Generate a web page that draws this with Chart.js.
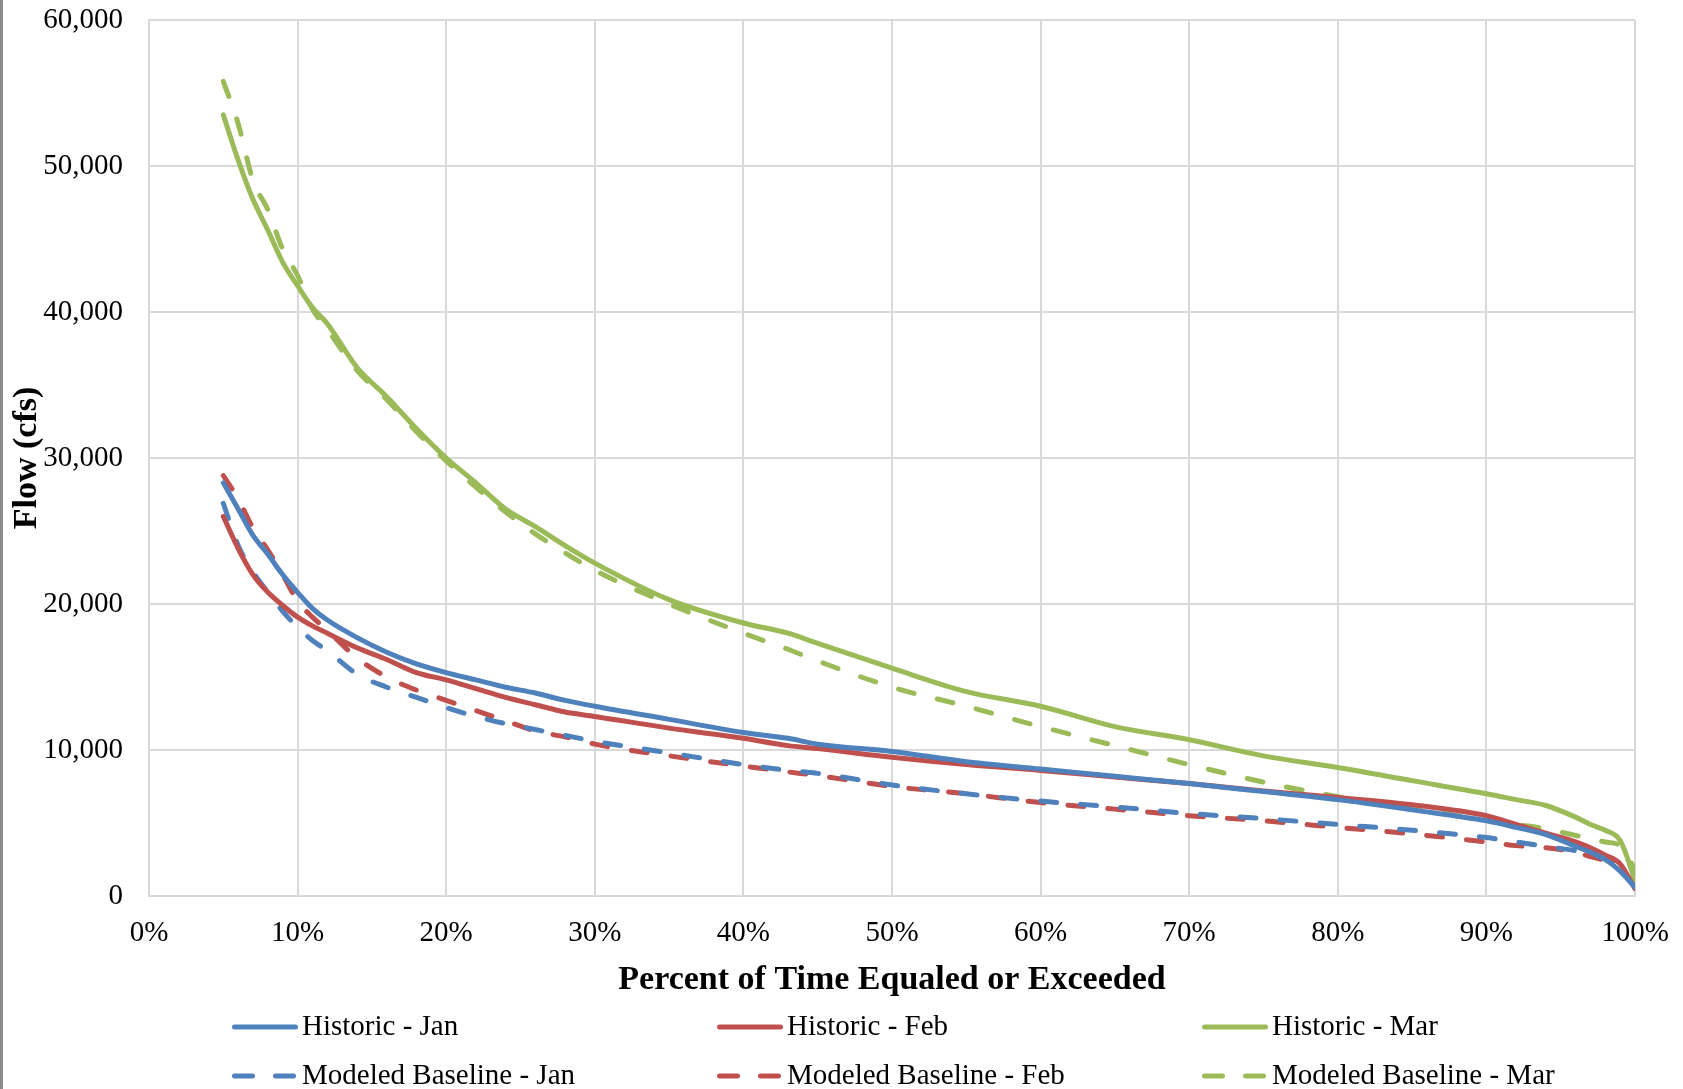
<!DOCTYPE html>
<html>
<head>
<meta charset="utf-8">
<script src="https://cdn.jsdelivr.net/npm/chart.js@4.4.1/dist/chart.umd.min.js"></script>
<style>
  html, body { margin: 0; padding: 0; background: #fff; }
  #wrap { position: relative; width: 1683px; height: 1089px; }
  #edge { position: absolute; left: 0; top: 0; width: 3px; height: 1089px; background: #8c8c8c; }
</style>
</head>
<body>
<div id="wrap">
  <canvas id="flowChart" width="1683" height="1089"></canvas>
  <div id="edge"></div>
</div>
<script>
// percent of time equaled or exceeded
const pct = [5, 6, 7, 8, 9, 10, 11, 12, 14, 16, 18, 20, 22, 24, 26, 28, 30, 35, 40, 43, 45,
  50, 55, 60, 65, 70, 75, 80, 85, 90, 92, 94, 96, 97, 98, 99, 100];

const historicJan = [28300, 26500, 24700, 23400, 22000, 20800, 19700, 18900, 17700, 16700, 15900,
  15300, 14800, 14300, 13900, 13400, 13000, 12100, 11200, 10800, 10400,
  9900, 9200, 8700, 8200, 7700, 7150, 6600, 5900, 5150, 4700, 4200, 3400, 3000, 2500, 1700, 600];
const historicFeb = [26000, 23800, 22000, 20800, 19900, 19100, 18500, 18000, 17000, 16200, 15300,
  14800, 14200, 13600, 13100, 12600, 12300, 11500, 10800, 10300, 10100,
  9500, 9000, 8600, 8150, 7700, 7200, 6750, 6250, 5500, 4900, 4300, 3700, 3300, 2800, 2200, 500];
const historicMar = [53500, 50400, 47700, 45600, 43400, 41800, 40300, 39200, 36200, 34200, 32000,
  30000, 28300, 26500, 25300, 24000, 22800, 20300, 18700, 18000, 17300,
  15600, 14000, 13000, 11600, 10700, 9600, 8800, 7900, 7000, 6600, 6200, 5400, 4900, 4500, 3800, 1100];
const modeledJan = [26900, 24000, 22200, 20800, 19500, 18400, 17500, 16800, 15200, 14300, 13600,
  12900, 12300, 11800, 11400, 11000, 10600, 9800, 9000, 8600, 8400,
  7600, 7000, 6500, 6100, 5650, 5300, 4900, 4500, 4000, 3700, 3400, 3100, 2900, 2500, 2000, 800];
const modeledFeb = [28800, 27200, 25200, 23700, 22000, 20200, 19100, 18200, 16300, 15000, 14100,
  13400, 12700, 12000, 11300, 10900, 10400, 9600, 8900, 8500, 8250,
  7500, 7000, 6400, 5950, 5500, 5150, 4700, 4250, 3700, 3450, 3300, 3000, 2700, 2400, 1800, 600];
const modeledMar = [55800, 52900, 49000, 47000, 44300, 42500, 40200, 38800, 36000, 34000, 31800,
  29800, 28000, 26300, 24800, 23500, 22300, 20000, 18000, 16900, 16100,
  14300, 13000, 11600, 10300, 9000, 7800, 6800, 6000, 5200, 4900, 4600, 4150, 3900, 3700, 3450, 1800];

const yTicks = [0, 10000, 20000, 30000, 40000, 50000, 60000];
const xTicks = [0, 10, 20, 30, 40, 50, 60, 70, 80, 90, 100];

const BLUE = "#4f81bd", RED = "#c0504d", GREEN = "#9bbb59";
const DASH = [16, 24];
const SERIF = "'Liberation Serif', 'Times New Roman', serif";

function pts(vals) {
  return pct.map(function (p, i) { return { x: p, y: vals[i] }; });
}

function series(label, vals, color, dashed) {
  return {
    label: label,
    data: pts(vals),
    borderColor: color,
    backgroundColor: color,
    borderWidth: 5,
    borderDash: dashed ? DASH : [],
    borderCapStyle: "round",
    borderJoinStyle: "round",
    pointRadius: 0,
    cubicInterpolationMode: "monotone",
    fill: false,
  };
}

// legend in a 3 x 2 grid like the original
const gridLegend = {
  id: "gridLegend",
  afterDraw: function (chart) {
    const ctx = chart.ctx;
    ctx.save();
    ctx.font = "29px " + SERIF;
    ctx.textBaseline = "middle";
    ctx.fillStyle = "#000";
    chart.data.datasets.forEach(function (ds, i) {
      const x0 = 232 + (i % 3) * 485;
      const y = 1027 + Math.floor(i / 3) * 49;
      ctx.beginPath();
      ctx.strokeStyle = ds.borderColor;
      ctx.lineWidth = 5;
      ctx.lineCap = "round";
      ctx.setLineDash(ds.borderDash.length ? [18, 23] : []);
      ctx.moveTo(x0 + 2.5, y);
      ctx.lineTo(x0 + 63.5, y);
      ctx.stroke();
      ctx.setLineDash([]);
      ctx.fillText(ds.label, x0 + 70, y);
    });
    ctx.restore();
  },
};

function noPad(s) {
  s.paddingTop = 0;
  s.paddingBottom = 0;
  s.paddingLeft = 0;
  s.paddingRight = 0;
}

document.addEventListener("DOMContentLoaded", function () {
  const ctx = document.getElementById("flowChart").getContext("2d");
  new Chart(ctx, {
    type: "line",
    data: {
      datasets: [
        series("Historic - Jan", historicJan, BLUE, false),
        series("Historic - Feb", historicFeb, RED, false),
        series("Historic - Mar", historicMar, GREEN, false),
        series("Modeled Baseline - Jan", modeledJan, BLUE, true),
        series("Modeled Baseline - Feb", modeledFeb, RED, true),
        series("Modeled Baseline - Mar", modeledMar, GREEN, true),
      ],
    },
    options: {
      responsive: false,
      animation: false,
      devicePixelRatio: 1,
      layout: { padding: { left: 0, right: 48, top: 20, bottom: 88 } },
      plugins: {
        legend: { display: false },
        tooltip: { enabled: false },
      },
      scales: {
        x: {
          type: "linear",
          min: 0,
          max: 100,
          afterFit: function (s) { s.height = 105; noPad(s); },
          afterBuildTicks: function (s) { s.ticks = xTicks.map(function (v) { return { value: v }; }); },
          ticks: {
            padding: 20,
            color: "#000",
            font: { family: SERIF, size: 29 },
            maxRotation: 0,
            callback: function (v) { return v + "%"; },
          },
          grid: { color: "#d9d9d9", lineWidth: 2, drawTicks: false },
          border: { color: "#d9d9d9", width: 2 },
          title: {
            display: true,
            text: "Percent of Time Equaled or Exceeded",
            color: "#000",
            font: { family: SERIF, size: 34, weight: "bold" },
            padding: { top: 0, bottom: 0 },
          },
        },
        y: {
          min: 0,
          max: 60000,
          afterFit: function (s) { s.width = 149; noPad(s); },
          afterBuildTicks: function (s) { s.ticks = yTicks.map(function (v) { return { value: v }; }); },
          ticks: {
            padding: 26,
            color: "#000",
            font: { family: SERIF, size: 29 },
            callback: function (v) { return v.toLocaleString("en-US"); },
          },
          grid: { color: "#d9d9d9", lineWidth: 2, drawTicks: false },
          border: { color: "#d9d9d9", width: 2 },
          title: {
            display: true,
            text: "Flow (cfs)",
            color: "#000",
            font: { family: SERIF, size: 34, weight: "bold" },
            padding: { top: 7, bottom: 0 },
          },
        },
      },
    },
    plugins: [gridLegend],
  });
});
</script>
</body>
</html>
